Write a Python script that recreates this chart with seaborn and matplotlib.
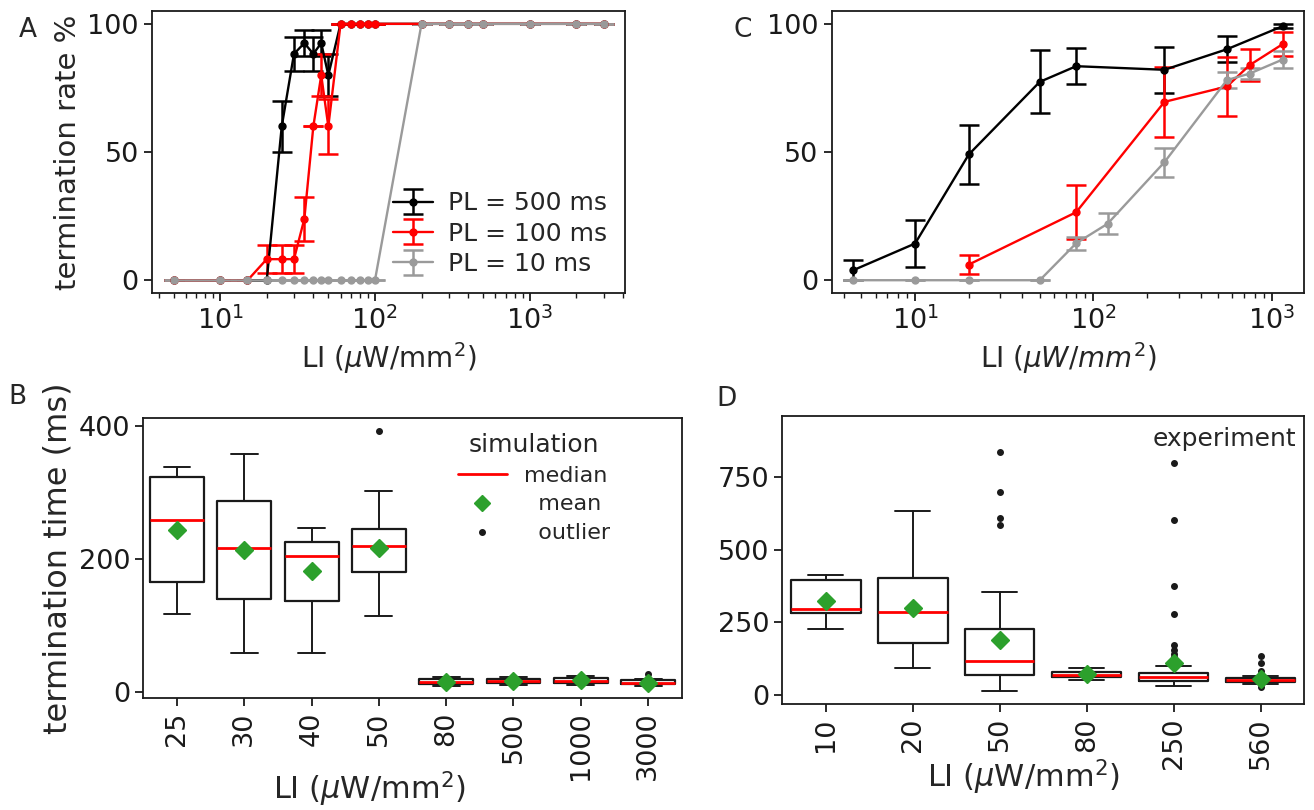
import numpy as np
import matplotlib
matplotlib.use("Agg")
import matplotlib.pyplot as plt
from matplotlib.lines import Line2D
import seaborn as sns

# ---------------- Panel A (simulation, termination rate) ----------------
li_a = [5, 10, 15, 20, 25, 30, 35, 40, 45, 50, 60, 70, 80, 90, 100,
        200, 300, 400, 500, 1000, 2000, 3000]
rate_a_500 = [0, 0, 0, 0, 60, 88.3, 92.5, 88.3, 92.5, 80, 100, 100, 100, 100, 100,
              100, 100, 100, 100, 100, 100, 100]
err_a_500 = [0, 0, 0, 0, 10, 6.6, 5.2, 6.6, 5.2, 8.3, 0, 0, 0, 0, 0,
             0, 0, 0, 0, 0, 0, 0]
rate_a_100 = [0, 0, 0, 8.3, 8.3, 8.3, 24, 60, 80, 60, 100, 100, 100, 100, 100,
              100, 100, 100, 100, 100, 100, 100]
err_a_100 = [0, 0, 0, 5.5, 5.5, 5.5, 8.7, 0, 8.3, 10.6, 0, 0, 0, 0, 0,
             0, 0, 0, 0, 0, 0, 0]
rate_a_10 = [0, 0, 0, 0, 0, 0, 0, 0, 0, 0, 0, 0, 0, 0, 0,
             100, 100, 100, 100, 100, 100, 100]
err_a_10 = [0] * 22

# ---------------- Panel C (experiment, termination rate) ----------------
li_c_500 = [4.5, 10, 20, 50, 80, 250, 560, 1150]
rate_c_500 = [3.9, 14.3, 49, 77.3, 83.4, 82, 90, 99]
err_c_500 = [4, 9.3, 11.5, 12.3, 6.9, 9, 5.1, 0.9]
li_c_100 = [20, 80, 250, 560, 750, 1150]
rate_c_100 = [6.1, 26.5, 69.5, 75.5, 83.8, 92]
err_c_100 = [3.8, 10.5, 13.5, 11.5, 6.3, 4.8]
li_c_10 = [4.5, 10, 20, 50, 80, 120, 250, 560, 750, 1150]
rate_c_10 = [0, 0, 0, 0, 14.4, 22, 46, 78, 80.5, 86]
err_c_10 = [0, 0, 0, 0, 2.6, 4, 5.7, 3, 2, 3.2]

# ---------------- Panel B (simulation, termination time) ----------------
cat_b = ["25", "30", "40", "50", "80", "500", "1000", "3000"]
q1_b = [165, 139, 136, 181, 12, 13, 13, 11]
med_b = [259, 216, 205, 220, 15, 16, 16, 13]
q3_b = [323, 288, 225, 245, 19, 19, 20, 17]
lo_b = [117, 58, 58, 114, 9, 10, 10, 9]
hi_b = [339, 359, 247, 303, 22, 22, 23, 19]
mean_b = [243, 213, 182, 217, 15, 16, 17, 13]
fliers_b = [[], [], [], [393], [], [], [], [26]]

# ---------------- Panel D (experiment, termination time) ----------------
cat_d = ["10", "20", "50", "80", "250", "560"]
q1_d = [283, 178, 70, 64, 50, 46]
med_d = [297, 287, 118, 70, 61, 54]
q3_d = [396, 401, 226, 81, 78, 60]
lo_d = [226, 95, 14, 52, 32, 37]
hi_d = [414, 632, 355, 95, 99, 65]
mean_d = [323, 298, 189, 72, 110, 57]
fliers_d = [[], [], [834, 697, 608, 584],
            [], [796, 601, 376, 279, 174, 157, 143, 130],
            [135, 111, 84, 29]]

# ---------------- style ----------------
sns.set_theme(style="ticks")
plt.rcParams["font.family"] = ["DejaVu Sans"]
plt.rcParams["mathtext.fontset"] = "dejavusans"
TICK = 19.5
tick_kw = dict(labelsize=TICK, width=1.3, length=6, color="k", labelcolor="k")

fig = plt.figure(figsize=(13.14, 8.10), dpi=100)
axA = fig.add_axes([0.1157, 0.6379, 0.3600, 0.3485])
axC = fig.add_axes([0.6330, 0.6379, 0.3595, 0.3485])
axB = fig.add_axes([0.1091, 0.1379, 0.4097, 0.3457])
axD = fig.add_axes([0.5954, 0.1309, 0.3970, 0.3559])

for ax in (axA, axB, axC, axD):
    for s in ax.spines.values():
        s.set_color("k")
        s.set_linewidth(1.3)
    ax.tick_params(axis="both", which="major", **tick_kw)
    ax.tick_params(axis="both", which="minor", width=1.0, length=3.5, color="k")

GREY = "#9a9a9a"
err_style = dict(fmt="-o", lw=1.7, ms=5, capsize=7, elinewidth=1.8, capthick=1.8)


def rate_panel(ax, series):
    handles = []
    for x, y, e, c, lab in series:
        h = ax.errorbar(x, y, yerr=e, color=c, label=lab, **err_style)
        handles.append(h)
    ax.set_xscale("log")
    ax.set_yticks([0, 50, 100])
    return handles


hA = rate_panel(axA, [
    (li_a, rate_a_500, err_a_500, "black", "PL = 500 ms"),
    (li_a, rate_a_100, err_a_100, "red", "PL = 100 ms"),
    (li_a, rate_a_10, err_a_10, GREY, "PL = 10 ms"),
])
axA.legend(handles=hA, loc="lower right", frameon=False, fontsize=18,
           handlelength=1.6, labelspacing=0.25, borderaxespad=0.3,
           handletextpad=0.6)
axA.set_ylabel("termination rate %", fontsize=21, labelpad=4)
axA.set_xlabel(r"LI ($\mu$W/mm$^2$)", fontsize=20)

rate_panel(axC, [
    (li_c_500, rate_c_500, err_c_500, "black", "PL = 500 ms"),
    (li_c_100, rate_c_100, err_c_100, "red", "PL = 100 ms"),
    (li_c_10, rate_c_10, err_c_10, GREY, "PL = 10 ms"),
])
axC.set_xlabel(r"LI ($\mu W/mm^2$)", fontsize=20)


def box_panel(ax, cats, q1, med, q3, lo, hi, mean, fliers):
    stats = []
    for i, lab in enumerate(cats):
        stats.append(dict(label=lab, q1=q1[i], med=med[i], q3=q3[i],
                          whislo=lo[i], whishi=hi[i], mean=mean[i],
                          fliers=fliers[i]))
    ax.bxp(stats, positions=range(len(cats)), widths=0.8, showmeans=True,
           boxprops=dict(color="k", lw=1.6),
           whiskerprops=dict(color="k", lw=1.4),
           capprops=dict(color="k", lw=1.4),
           medianprops=dict(color="red", lw=2),
           meanprops=dict(marker="D", markerfacecolor="#2ca02c",
                          markeredgecolor="#2ca02c", markersize=9),
           flierprops=dict(marker="o", markerfacecolor="k",
                           markeredgecolor="k", markersize=4))
    ax.set_xlim(-0.5, len(cats) - 0.5)
    ax.tick_params(axis="x", labelrotation=90)


box_panel(axB, cat_b, q1_b, med_b, q3_b, lo_b, hi_b, mean_b, fliers_b)
axB.set_yticks([0, 200, 400])
axB.set_ylabel("termination time (ms)", fontsize=23)
axB.set_xlabel(r"LI ($\mu$W/mm$^2$)", fontsize=22)
axB.xaxis.set_label_coords(0.42, -0.255)
leg_handles = [
    Line2D([], [], color="red", lw=2),
    Line2D([], [], ls="", marker="D", color="#2ca02c", markersize=8),
    Line2D([], [], ls="", marker="o", color="k", markersize=4),
]
axB.legend(leg_handles, ["median", "  mean", "  outlier"], title="simulation",
           title_fontsize=18, fontsize=16, frameon=False,
           loc="upper right", bbox_to_anchor=(0.905, 1.02),
           handlelength=2.2, labelspacing=0.4)

box_panel(axD, cat_d, q1_d, med_d, q3_d, lo_d, hi_d, mean_d, fliers_d)
axD.set_ylim(-30, 960)
axD.set_yticks([0, 250, 500, 750])
axD.set_xlabel(r"LI ($\mu$W/mm$^2$)", fontsize=22)
axD.xaxis.set_label_coords(0.462, -0.185)
axD.text(0.985, 0.92, "experiment", transform=axD.transAxes, ha="right",
         va="center", fontsize=18)

for lab, x, y in [("A", 0.021, 0.963), ("B", 0.013, 0.510),
                  ("C", 0.565, 0.963), ("D", 0.553, 0.507)]:
    fig.text(x, y, lab, fontsize=19, ha="center", va="center")

fig.savefig("out.png", dpi=100)
